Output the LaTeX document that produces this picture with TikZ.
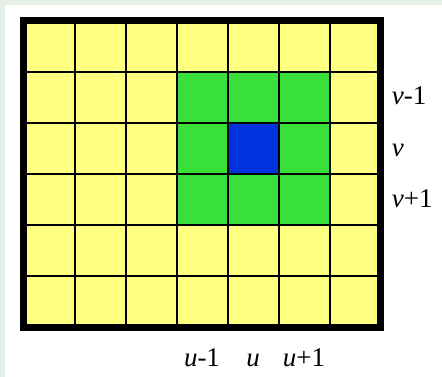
\documentclass[tikz,border=0pt]{standalone}
\usepackage{fontspec}
\setmainfont{Liberation Serif}
\usetikzlibrary{positioning}

\definecolor{cellyellow}{RGB}{255,255,128}
\definecolor{cellgreen}{RGB}{58,224,58}
\definecolor{cellblue}{RGB}{0,51,221}
\definecolor{framegrey}{RGB}{230,239,230}

\begin{document}
\begin{tikzpicture}[
    x=1pt, y=1pt,
    % Index labels under and beside the grid
    idx/.style={
        inner sep=0pt, font=\fontsize{27}{32}\selectfont
    },
    % Thin inner grid line
    gline/.style={line width=2pt, black},
    % Thick outer border
    border/.style={line width=7pt, black},
]

% ============================================================
% PAGE: white with light strip on the left and top
% ============================================================
\fill[white] (0,0) rectangle (442,377);
\useasboundingbox (0,0) rectangle (442,377);
\fill[framegrey] (0,0) rectangle (5,377);
\fill[framegrey] (0,372) rectangle (442,377);

% ============================================================
% GRID: 7 columns x 6 rows, row 0 on top
% ============================================================
\begin{scope}[shift={(23.5,356.5)}, x=51pt, y=-51.17pt]

% Cell fills
\fill[cellyellow] (0,0) rectangle (7,6);
\fill[cellgreen]  (3,1) rectangle (6,4);
\fill[cellblue]   (4,2) rectangle (5,3);

% Inner lines
\foreach \i in {1,...,6}
    \draw[gline] (\i,0) -- (\i,6);
\foreach \j in {1,...,5}
    \draw[gline] (0,\j) -- (7,\j);

% Outer border
\draw[border] (0,0) rectangle (7,6);

% Column labels (below)
\node[idx, anchor=base] (U-m1) at (3.5,6.77) {\textit{u}-1};
\node[idx, anchor=base] (U-0)  at (4.5,6.77) {\textit{u}};
\node[idx, anchor=base] (U-p1) at (5.5,6.77) {\textit{u}+1};

% Row labels (right)
\node[idx, anchor=base west] (V-m1) at (7.22,1.65) {\textit{v}-1};
\node[idx, anchor=base west] (V-0)  at (7.22,2.65) {\textit{v}};
\node[idx, anchor=base west] (V-p1) at (7.22,3.65) {\textit{v}+1};

\end{scope}

\end{tikzpicture}
\end{document}
